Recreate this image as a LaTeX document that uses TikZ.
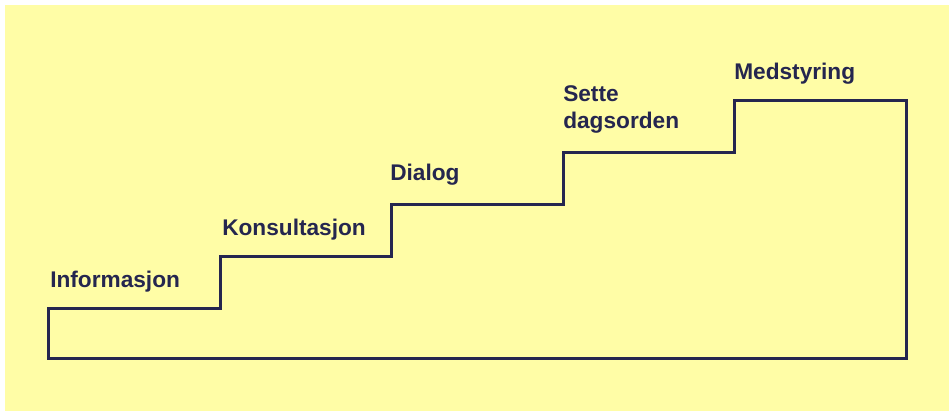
\documentclass[tikz,border=0pt]{standalone}
\usepackage{fontspec}
\setmainfont{Liberation Sans}
\definecolor{stairnavy}{HTML}{25264F}
\definecolor{stairyellow}{HTML}{FFFDA6}
\begin{document}
\begin{tikzpicture}[x=0.75pt,y=-0.75pt,
    steplabel/.style={anchor=base west,inner sep=0pt,text=stairnavy,align=left,
      font=\fontsize{17}{20}\selectfont\bfseries}]
        \useasboundingbox (0,0) rectangle (949,411);
        % Background
        \fill[stairyellow] (5,5) rectangle (949,411);

        % The staircase, drawn as one closed outline
        \draw[stairnavy,line width=2.25pt,line join=miter]
            (48,358) -- (48,308) -- (220,308) -- (220,256) -- (391,256)
            -- (391,204) -- (563,204) -- (563,152) -- (734,152)
            -- (734,100) -- (906,100) -- (906,358) -- cycle;

        % Step labels (base of the last line)
        \node[steplabel] (info) at (50,287) {Informasjon};
        \node[steplabel] (konsult) at (222,235) {Konsultasjon};
        \node[steplabel] (dialog) at (390,180) {Dialog};
        \node[steplabel] (sette) at (563,128) {Sette\\dagsorden};
        \node[steplabel] (medstyr) at (734,79) {Medstyring};
    \end{tikzpicture}
\end{document}
